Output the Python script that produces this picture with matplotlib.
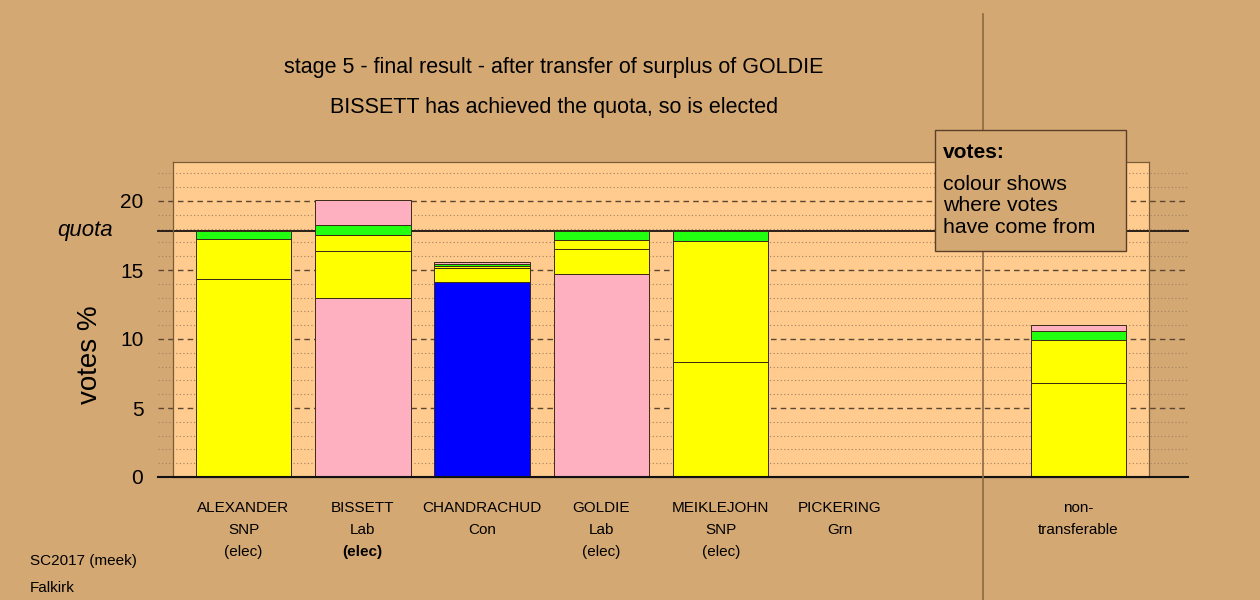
import matplotlib
matplotlib.use("Agg")
import matplotlib.pyplot as plt
from matplotlib.patches import Rectangle
import numpy as np

plt.rcParams['font.family'] = ['Liberation Sans', 'DejaVu Sans']

# ---------------- data ----------------
candidates = ['ALEXANDER', 'BISSETT', 'CHANDRACHUD', 'GOLDIE', 'MEIKLEJOHN', 'PICKERING', 'non-']
parties = ['SNP', 'Lab', 'Con', 'Lab', 'SNP', 'Grn', 'transferable']
status = ['(elec)', '(elec)', '', '(elec)', '(elec)', '', '']
status_bold = [False, True, False, False, False, False, False]
slots = [0, 1, 2, 3, 4, 5, 7]

# vote share segments (%), bottom to top, by stage
stage1 = [14.35, 12.97, 14.15, 14.73, 8.31, 0.0, 6.79]
stage1_colours = ['#FFFF00', '#FFB0C0', '#0000FF', '#FFB0C0', '#FFFF00', '#22FF11', '#FFFF00']
stage2 = [2.87, 3.41, 0.97, 1.77, 8.79, 0.0, 3.11]
stage3 = [0.00, 1.13, 0.15, 0.70, 0.00, 0.0, 0.00]
stage4 = [0.61, 0.75, 0.20, 0.63, 0.73, 0.0, 0.70]
stage5 = [0.00, 1.81, 0.13, 0.00, 0.00, 0.0, 0.38]
stage_colours = ['#FFFF00', '#FFFF00', '#22FF11', '#FFB0C0']  # stages 2..5

quota = 17.83
yticks = [0, 5, 10, 15, 20]

title1 = 'stage 5 - final result - after transfer of surplus of GOLDIE'
title2 = 'BISSETT has achieved the quota, so is elected'

# ---------------- figure ----------------
W, H = 1260, 600
outer = '#D4A873'
panel = '#FFCB8E'
brown = '#7A5C3A'

fig = plt.figure(figsize=(W / 100, H / 100), dpi=100, facecolor=outer)
px_l, px_r, px_t, px_b = 172.5, 1149, 162, 477
ax = fig.add_axes([px_l / W, 1 - px_b / H, (px_r - px_l) / W, (px_b - px_t) / H])
ax.set_facecolor(panel)

step = 119.3
x0 = 243.5
def px2x(p):
    return (p - x0) / step
unit = 13.8
def px2y(p):
    return (px_b - p) / unit

ax.set_xlim(px2x(px_l), px2x(px_r))
ax.set_ylim(0, px2y(px_t))

for s in ax.spines.values():
    s.set_color(brown)
    s.set_linewidth(0.9)

gx = [px2x(158), px2x(1187.5)]
for v in range(1, 23):
    if v % 5 == 0:
        ax.plot(gx, [v, v], color='#5A4632', lw=1.0, ls=(0, (4, 3)), clip_on=False, zorder=1)
    else:
        ax.plot(gx, [v, v], color='#A08060', lw=0.8, ls=(0, (1, 2.2)), clip_on=False, zorder=1)

# quota line
ax.plot(gx, [quota, quota], color='#2A2018', lw=1.4, clip_on=False, zorder=2)
# axis line at 0
ax.plot(gx, [0, 0], color='#111111', lw=1.5, clip_on=False, zorder=4)

# bars
edge = '#3A2A14'
bottoms = np.zeros(len(slots))
ax.bar(slots, stage1, width=0.8, bottom=bottoms, color=stage1_colours,
       edgecolor=edge, linewidth=0.7, zorder=3)
bottoms = bottoms + np.array(stage1)
for vals, col in zip([stage2, stage3, stage4, stage5], stage_colours):
    ax.bar(slots, vals, width=0.8, bottom=bottoms, color=col,
           edgecolor=edge, linewidth=0.7, zorder=3)
    bottoms = bottoms + np.array(vals)

# divider line
ax.plot([px2x(983), px2x(983)], [px2y(600), px2y(14)], color='#8A6A45', lw=1.2,
        clip_on=False, zorder=5)

ax.set_xticks([])
ax.set_yticks(yticks)
ax.set_yticklabels([str(t) for t in yticks], fontsize=15)
ax.tick_params(axis='y', length=0, pad=21)

ax.text(px2x(113), quota, 'quota', style='italic', fontsize=16, ha='right', va='center')

fig.text(90 / W, 1 - 355 / H, 'votes %', rotation=90, fontsize=20, ha='center', va='center')

fig.text(554 / W, 1 - 68 / H, title1, fontsize=15.5, ha='center', va='center')
fig.text(554 / W, 1 - 107 / H, title2, fontsize=15.5, ha='center', va='center')

for i, xs in enumerate(slots):
    ax.text(xs, px2y(508), candidates[i], fontsize=11, ha='center', va='center', clip_on=False)
    ax.text(xs, px2y(530), parties[i], fontsize=11, ha='center', va='center', clip_on=False)
    if status[i]:
        ax.text(xs, px2y(552), status[i], fontsize=11, ha='center', va='center',
                fontweight='bold' if status_bold[i] else 'normal', clip_on=False)

fig.text(30 / W, 1 - 561 / H, 'SC2017 (meek)', fontsize=11, ha='left', va='center')
fig.text(30 / W, 1 - 588 / H, 'Falkirk', fontsize=11, ha='left', va='center')

# note box
bx0, bx1, by0, by1 = 935, 1126, 130, 251
fig.patches.append(Rectangle((bx0 / W, 1 - by1 / H), (bx1 - bx0) / W, (by1 - by0) / H,
                             transform=fig.transFigure, facecolor=outer, edgecolor='#5A4028',
                             lw=1.0, zorder=1))
fig.text(943 / W, 1 - 152 / H, 'votes:', fontsize=15, fontweight='bold', ha='left', va='center')
for yy, line in zip([184, 205.5, 227.5], ['colour shows', 'where votes', 'have come from']):
    fig.text(943 / W, 1 - yy / H, line, fontsize=15.3, ha='left', va='center')

fig.savefig('out.png', dpi=100, facecolor=outer)
